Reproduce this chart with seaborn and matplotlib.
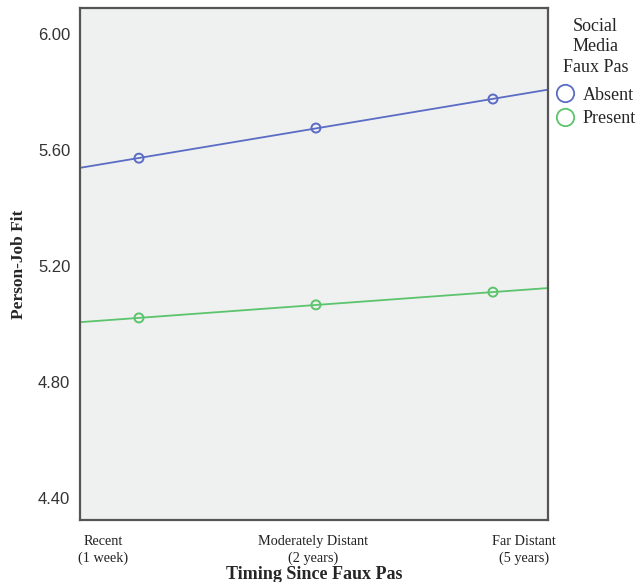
import numpy as np
import pandas as pd
import matplotlib
matplotlib.use("Agg")
import matplotlib.pyplot as plt
from matplotlib.lines import Line2D
import seaborn as sns

# --- data ---
timing_labels = ["Recent\n(1 week)", "Moderately Distant\n(2 years)", "Far Distant\n(5 years)"]
timing_pos = [0, 1, 2]
absent_fit = [5.572, 5.676, 5.776]
present_fit = [5.021, 5.066, 5.110]
groups = ["Absent", "Present"]
colors = {"Absent": "#5b6cc4", "Present": "#5cc46c"}

df = pd.DataFrame({
    "timing": timing_pos * 2,
    "fit": absent_fit + present_fit,
    "group": ["Absent"] * 3 + ["Present"] * 3,
})

sns.set_style("white")
serif = ["Liberation Serif", "DejaVu Serif"]
sans = ["Liberation Sans", "DejaVu Sans"]

fig = plt.figure(figsize=(6.37, 5.82), dpi=100)
ax = fig.add_axes([80 / 637, 62 / 582, 468 / 637, 512 / 582])
ax.set_facecolor("#eff0f0")

# axis limits (SPSS style box, fit lines run edge to edge)
ax.set_xlim(-0.333, 2.311)
ax.set_ylim(4.324, 6.09)

for g in groups:
    sub = df[df["group"] == g]
    sns.regplot(data=sub, x="timing", y="fit", ax=ax, scatter=False, ci=None,
                truncate=False, color=colors[g], line_kws={"linewidth": 1.3})
    ax.scatter(sub["timing"], sub["fit"], s=42, facecolors="none",
               edgecolors=colors[g], linewidths=1.4, zorder=3)

ax.set_xlim(-0.333, 2.311)
ax.set_ylim(4.324, 6.09)

# category ticks sit a little off the points, as in the original export
ax.set_xticks([-0.203, 0.983, 2.175])
ax.set_xticklabels(timing_labels, fontfamily=serif, fontsize=10.3, color="#222222", linespacing=1.3)
ax.set_yticks([4.40, 4.80, 5.20, 5.60, 6.00])
ax.set_yticklabels([f"{v:.2f}" for v in [4.40, 4.80, 5.20, 5.60, 6.00]],
                   fontfamily=sans, fontsize=12, color="#333333")
ax.tick_params(axis="both", direction="out", length=5, width=1.5, color="#444444", pad=2)
ax.tick_params(axis="x", pad=6)

for sp in ax.spines.values():
    sp.set_visible(True)
    sp.set_color("#555555")
    sp.set_linewidth(1.6)

ax.set_xlabel("Timing Since Faux Pas", fontfamily=serif, fontsize=13,
              fontweight="bold", labelpad=1)
ax.set_ylabel("Person-Job Fit", fontfamily=serif, fontsize=12.5,
              fontweight="bold", labelpad=8)

handles = [Line2D([], [], linestyle="none", marker="o", markersize=12.5,
                  markerfacecolor="none", markeredgecolor=colors[g],
                  markeredgewidth=1.3, label=g) for g in groups]
leg = fig.legend(handles=handles, title="Social\nMedia\nFaux Pas",
                 loc="upper left", bbox_to_anchor=(555 / 637, 1 - 18 / 582),
                 frameon=False, prop={"family": serif, "size": 13},
                 title_fontproperties={"family": serif, "size": 13},
                 handletextpad=0.45, handlelength=1.1, labelspacing=0.35,
                 borderaxespad=0, borderpad=0)
leg.get_title().set_multialignment("center")
leg.get_title().set_linespacing(1.25)
leg._legend_box.sep = 8

fig.savefig("out.png", dpi=100)
